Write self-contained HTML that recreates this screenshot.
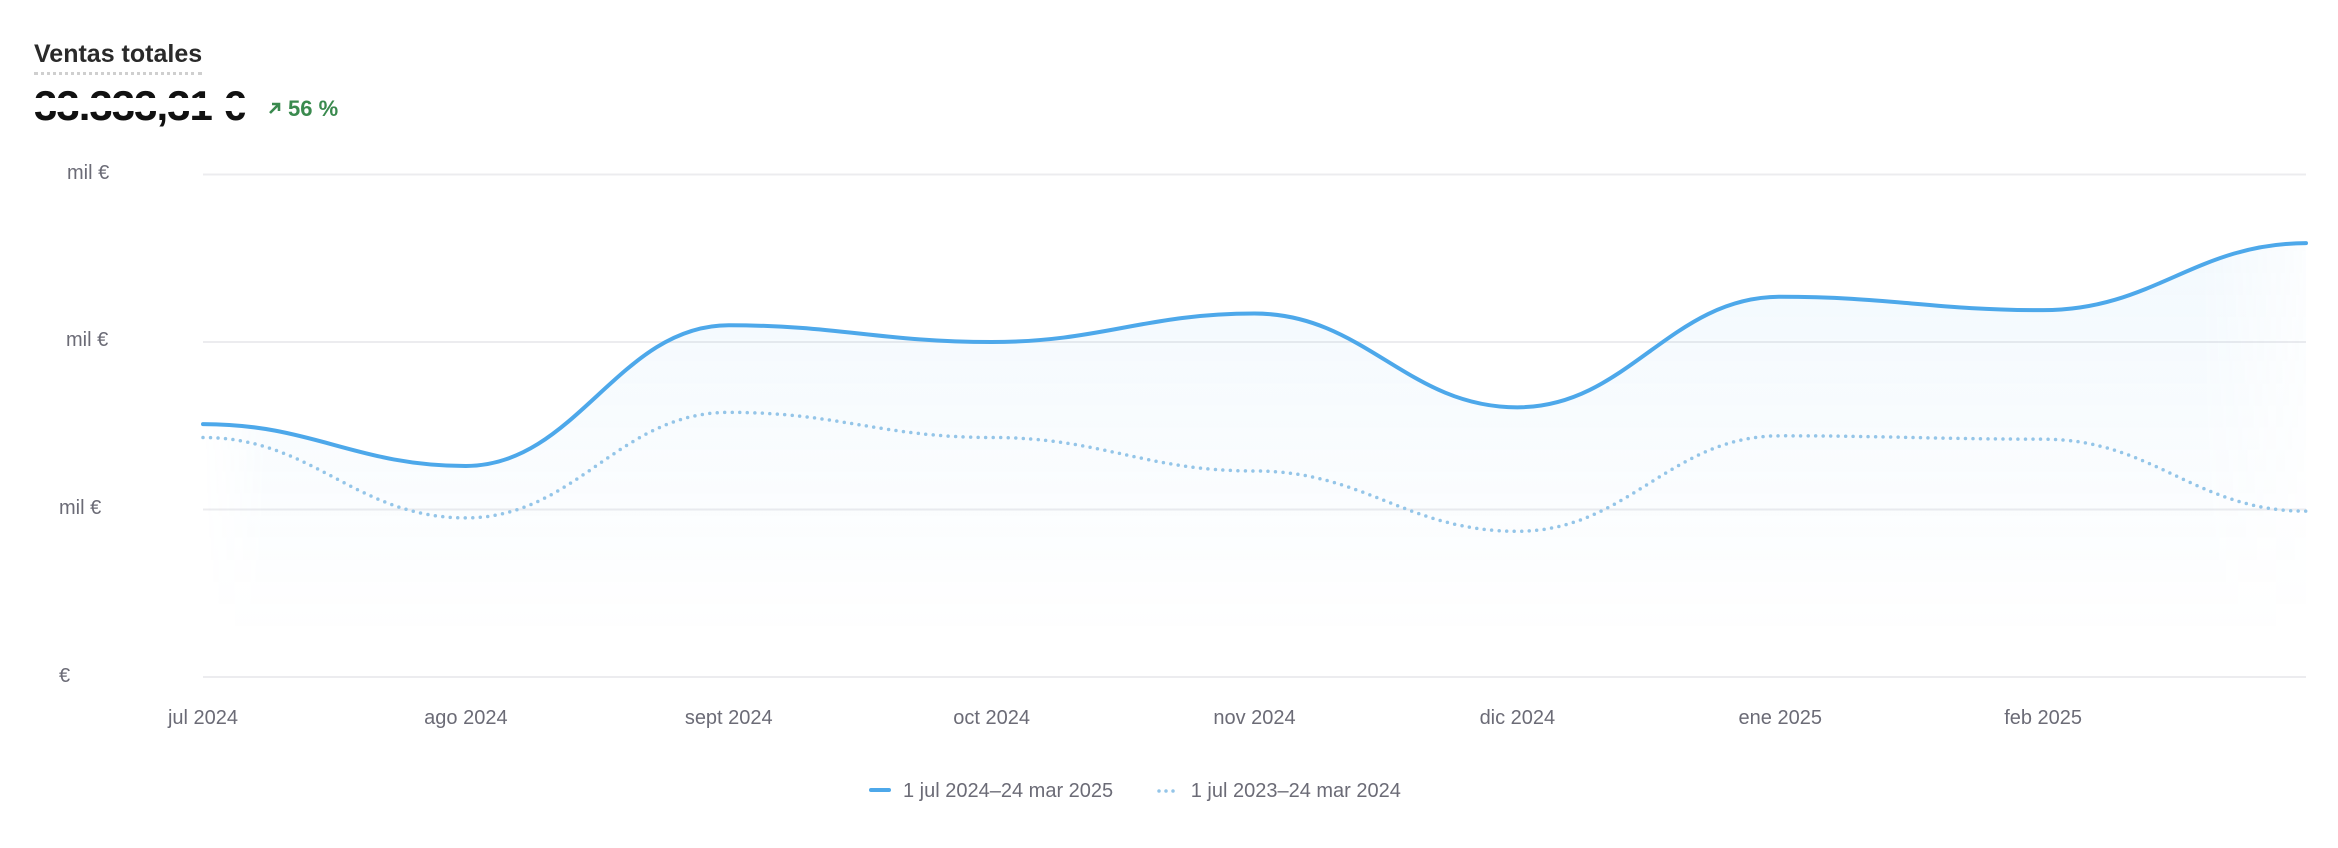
<!DOCTYPE html>
<html><head><meta charset="utf-8"><style>
html,body{margin:0;padding:0;background:#fff;}
body{width:2338px;height:848px;position:relative;overflow:hidden;font-family:"Liberation Sans",sans-serif;}
.abs{position:absolute;white-space:nowrap;}
.tick{color:#6b6b76;font-size:20px;}
</style></head><body>
<div class="abs" style="left:34px;top:40px;font-size:25px;font-weight:bold;color:#2a2a2a;border-bottom:3px dotted #cfcfcf;padding-bottom:3px;">Ventas totales</div>
<div class="abs" style="left:34px;top:84px;font-size:42px;font-weight:bold;color:#111;line-height:44px;letter-spacing:-1px;">33.333,31 €</div>
<div class="abs" style="left:30px;top:98px;width:232px;height:13px;background:#fff;"></div>
<div class="abs" style="left:268px;top:96px;font-size:22px;font-weight:bold;color:#3a8a4e;">
<svg width="14" height="14" style="vertical-align:1px;margin-right:6px" viewBox="0 0 14 14"><path d="M2 12 L11 3 M4 3 H11 V10" stroke="#3a8a4e" stroke-width="2.6" fill="none"/></svg>56 %</div>

<div class="abs tick" style="left:67px;top:162px;">mil €</div>
<div class="abs tick" style="left:66px;top:329px;">mil €</div>
<div class="abs tick" style="left:59px;top:497px;">mil €</div>
<div class="abs tick" style="left:59px;top:665px;">€</div>

<svg id="chart" class="abs" style="left:0;top:0" width="2338" height="848"></svg>

<div class="abs" style="left:869px;top:780px;font-size:20px;color:#6b6b76;">
<span><span style="display:inline-block;width:22px;height:4px;background:#4da8ea;border-radius:2px;vertical-align:5px;margin-right:12px"></span>1 jul 2024–24 mar 2025</span>
<span style="margin-left:38px"><svg width="24" height="6" style="vertical-align:3px;margin-right:10px"><line x1="2" y1="3" x2="22" y2="3" stroke="#94c5e8" stroke-width="3.5" stroke-linecap="round" stroke-dasharray="0 7"/></svg>1 jul 2023–24 mar 2024</span>
</div>

<script>
const categories = ["jul 2024","ago 2024","sept 2024","oct 2024","nov 2024","dic 2024","ene 2025","feb 2025","mar 2025"];
const tickLabels = ["jul 2024","ago 2024","sept 2024","oct 2024","nov 2024","dic 2024","ene 2025","feb 2025"];
const currentValues = [1.51,1.26,2.10,2.00,2.17,1.61,2.27,2.19,2.59];
const previousValues = [1.43,0.95,1.58,1.43,1.23,0.87,1.44,1.42,0.99];
const yTicks = [0,1,2,3];

const NS="http://www.w3.org/2000/svg";
const svg=document.getElementById('chart');
const X0=203,X1=2306,Y0=677,Y3=174.5;
function xs(i){return X0+(X1-X0)*i/(categories.length-1);}
function ys(v){return Y0-(Y0-Y3)*v/3;}
function mk(tag,attrs){const e=document.createElementNS(NS,tag);for(const k in attrs)e.setAttribute(k,attrs[k]);return e;}

// smooth path with flat tangents at each data point
function smooth(pts){
  let p="M"+pts[0][0]+","+pts[0][1];
  for(let i=0;i<pts.length-1;i++){const h=(pts[i+1][0]-pts[i][0])*0.42;
    p+=" C"+(pts[i][0]+h)+","+pts[i][1]+" "+(pts[i+1][0]-h)+","+pts[i+1][1]+" "+pts[i+1][0]+","+pts[i+1][1];}
  return p;
}

const defs=mk('defs',{});
defs.innerHTML='<linearGradient id="fg" x1="0" y1="0" x2="0" y2="1"><stop offset="0" stop-color="#4da8ea" stop-opacity="0.07"/><stop offset="1" stop-color="#4da8ea" stop-opacity="0"/></linearGradient><linearGradient id="hm" x1="0" y1="0" x2="1" y2="0"><stop offset="0" stop-color="#fff" stop-opacity="0"/><stop offset="0.03" stop-color="#fff" stop-opacity="1"/><stop offset="0.95" stop-color="#fff" stop-opacity="1"/><stop offset="1" stop-color="#fff" stop-opacity="0.3"/></linearGradient><mask id="m"><rect x="203" y="0" width="2103" height="848" fill="url(#hm)"/></mask>';
svg.appendChild(defs);

yTicks.forEach(t=>{
  const g=mk('line',{x1:X0,x2:X1,y1:ys(t),y2:ys(t),stroke:'#ececef','stroke-width':2});
  
  
  svg.appendChild(g);
});

const cur=currentValues.map((v,i)=>[xs(i),ys(v)]);
const prev=previousValues.map((v,i)=>[xs(i),ys(v)]);
const cp=smooth(cur);
const area=mk('path',{d:cp+" L"+X1+","+(Y0-40)+" L"+X0+","+(Y0-40)+" Z",fill:'url(#fg)',mask:'url(#m)'});


svg.appendChild(area);

const pl=mk('path',{d:smooth(prev),fill:'none',stroke:'#94c5e8','stroke-width':3.5,'stroke-linecap':'round','stroke-dasharray':'0 7.5'});


svg.appendChild(pl);

const cl=mk('path',{d:cp,fill:'none',stroke:'#4da8ea','stroke-width':4,'stroke-linecap':'round'});


svg.appendChild(cl);

tickLabels.forEach((t,i)=>{
  const tx=mk('text',{x:xs(i),y:724,'text-anchor':'middle','font-size':20,fill:'#6b6b76','font-family':'Liberation Sans, sans-serif'});
  tx.textContent=t;
  
  
  svg.appendChild(tx);
});
</script>
</body></html>
